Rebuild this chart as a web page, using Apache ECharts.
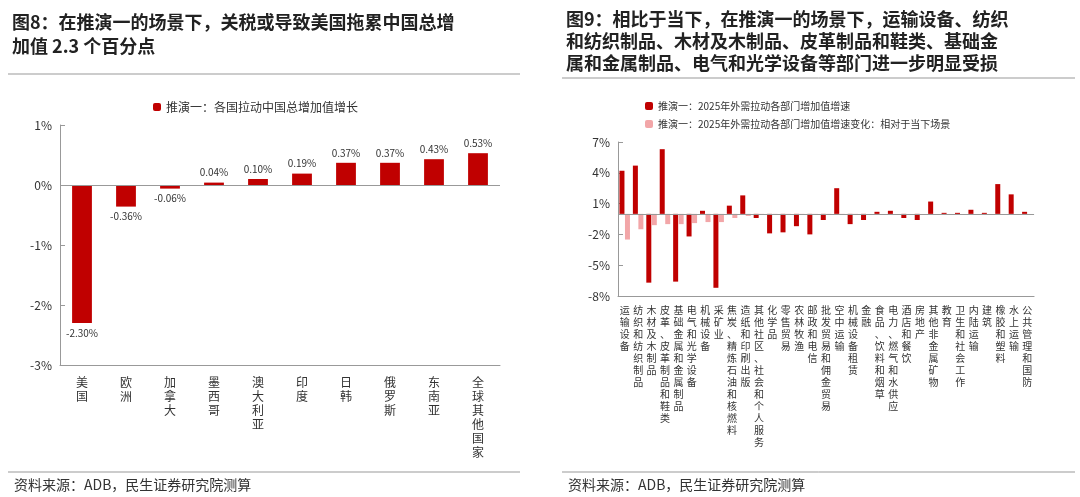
<!DOCTYPE html>
<html><head><meta charset="utf-8">
<script src="https://cdn.jsdelivr.net/npm/echarts@6/dist/echarts.min.js"></script>
<style>html,body{margin:0;padding:0;background:#fff}#c{width:1080px;height:497px}</style>
</head><body><div id="c"></div>
<script>
const countries = ['美国','欧洲','加拿大','墨西哥','澳大利亚','印度','日韩','俄罗斯','东南亚','全球其他国家'];
const countryValues = [-2.30,-0.36,-0.06,0.04,0.10,0.19,0.37,0.37,0.43,0.53];
const sectors = ['运输设备','纺织和纺织制品','木材及木制品','皮革、皮革制品和鞋类','基础金属和金属制品','电气和光学设备','机械设备','采矿业','焦炭、精炼石油和核燃料','造纸和印刷出版','其他社区、社会和个人服务','化学品','零售贸易','农林牧渔','邮政和电信','批发贸易和佣金贸易','空中运输','机械设备租赁','金融','食品、饮料和烟草','电力、燃气和水供应','酒店和餐饮','房地产','其他非金属矿物','教育','卫生和社会工作','内陆运输','建筑','橡胶和塑料','水上运输','公共管理和国防'];
const sectorGrowth = [4.2,4.7,-6.7,6.3,-6.6,-2.2,0.3,-7.2,0.8,1.8,-0.4,-1.9,-1.8,-1.2,-2.0,-0.6,2.5,-1.0,-0.6,0.2,0.3,-0.4,-0.6,1.2,0.1,0.1,0.4,0.1,2.9,1.9,0.2];
const sectorChange = [-2.5,-1.5,-1.1,-1.0,-1.0,-0.9,-0.8,-0.8,-0.4,-0.2,-0.1,-0.1,-0.1,-0.1,-0.1,-0.1,-0.1,-0.1,0,0,0,0,0,0,0,0,0,0,0,0,0];

const font = '"Noto Sans CJK SC", sans-serif';
const vert = s => s.split('').join('\n');
const chart = echarts.init(document.getElementById('c'));
chart.setOption({
  textStyle: { fontFamily: font },
  animation: false,
  graphic: [
    { type: 'text', left: 12, top: 10, style: { text: '图8：在推演一的场景下，关税或导致美国拖累中国总增\n加值 2.3 个百分点', font: 'bold 18px ' + font, fill: '#222', lineHeight: 24 } },
    { type: 'text', left: 566, top: 8, style: { text: '图9：相比于当下，在推演一的场景下，运输设备、纺织\n和纺织制品、木材及木制品、皮革制品和鞋类、基础金\n属和金属制品、电气和光学设备等部门进一步明显受损', font: 'bold 18px ' + font, fill: '#222', lineHeight: 22 } },
    { type: 'line', shape: { x1: 8, y1: 74, x2: 520, y2: 74 }, style: { stroke: '#999', lineWidth: 1 } },
    { type: 'line', shape: { x1: 562, y1: 78, x2: 1075, y2: 78 }, style: { stroke: '#999', lineWidth: 1 } },
    { type: 'line', shape: { x1: 8, y1: 472, x2: 520, y2: 472 }, style: { stroke: '#999', lineWidth: 1 } },
    { type: 'line', shape: { x1: 562, y1: 472, x2: 1075, y2: 472 }, style: { stroke: '#999', lineWidth: 1 } },
    { type: 'text', left: 14, top: 478, style: { text: '资料来源：ADB，民生证券研究院测算', font: '14px ' + font, fill: '#333' } },
    { type: 'text', left: 568, top: 478, style: { text: '资料来源：ADB，民生证券研究院测算', font: '14px ' + font, fill: '#333' } }
  ],
  legend: [
    { data: ['推演一：各国拉动中国总增加值增长'], left: 148, top: 96, itemWidth: 8, itemHeight: 8, textStyle: { fontSize: 12, color: '#333' } },
    { data: ['推演一：2025年外需拉动各部门增加值增速', '推演一：2025年外需拉动各部门增加值增速变化：相对于当下场景'], orient: 'vertical', left: 640, top: 96, itemWidth: 8, itemHeight: 8, itemGap: 8, textStyle: { fontSize: 10, color: '#333' } }
  ],
  grid: [
    { left: 60, top: 125, width: 440, height: 240 },
    { left: 618, top: 142, width: 438, height: 154 }
  ],
  xAxis: [
    { gridIndex: 0, type: 'category', data: countries,
      axisLine: { onZero: false, lineStyle: { color: '#999' } }, axisTick: { show: false },
      axisLabel: { formatter: vert, fontSize: 12, lineHeight: 14, color: '#333', interval: 0, margin: 10, verticalAlign: 'top', width: 100, overflow: 'none' } },
    { gridIndex: 1, type: 'category', data: sectors,
      axisLine: { onZero: false, lineStyle: { color: '#999' } }, axisTick: { show: false },
      axisLabel: { formatter: vert, fontSize: 10, lineHeight: 12, color: '#333', interval: 0, margin: 8, verticalAlign: 'top', width: 100, overflow: 'none', hideOverlap: false } }
  ],
  yAxis: [
    { gridIndex: 0, type: 'value', min: -3, max: 1, interval: 1,
      axisLabel: { formatter: v => v + '%', color: '#333', fontSize: 12 },
      axisLine: { show: true, lineStyle: { color: '#999' } }, axisTick: { show: true, inside: true },
      splitLine: { show: false } },
    { gridIndex: 1, type: 'value', min: -8, max: 7, interval: 3,
      axisLabel: { formatter: v => v + '%', color: '#333', fontSize: 12 },
      axisLine: { show: true, lineStyle: { color: '#999' } }, axisTick: { show: true, inside: true },
      splitLine: { show: false } }
  ],
  series: [
    { name: '推演一：各国拉动中国总增加值增长', type: 'bar', xAxisIndex: 0, yAxisIndex: 0,
      data: countryValues.map(v => ({ value: v, label: { position: v < 0 ? 'bottom' : 'top' } })),
      barWidth: '45%', itemStyle: { color: '#c00000' },
      label: { show: true, fontSize: 10, color: '#333', formatter: p => p.value.toFixed(2) + '%' },
      markLine: { silent: true, symbol: 'none', label: { show: false }, lineStyle: { color: '#999', type: 'solid', width: 1 }, data: [{ yAxis: 0 }] } },
    { name: '推演一：2025年外需拉动各部门增加值增速', type: 'bar', xAxisIndex: 1, yAxisIndex: 1, data: sectorGrowth,
      barWidth: 5, barGap: '10%', itemStyle: { color: '#c00000' },
      markLine: { silent: true, symbol: 'none', label: { show: false }, lineStyle: { color: '#999', type: 'solid', width: 1 }, data: [{ yAxis: 0 }] } },
    { name: '推演一：2025年外需拉动各部门增加值增速变化：相对于当下场景', type: 'bar', xAxisIndex: 1, yAxisIndex: 1, data: sectorChange,
      barWidth: 5, itemStyle: { color: '#f2a6a8' } }
  ]
});
</script></body></html>
